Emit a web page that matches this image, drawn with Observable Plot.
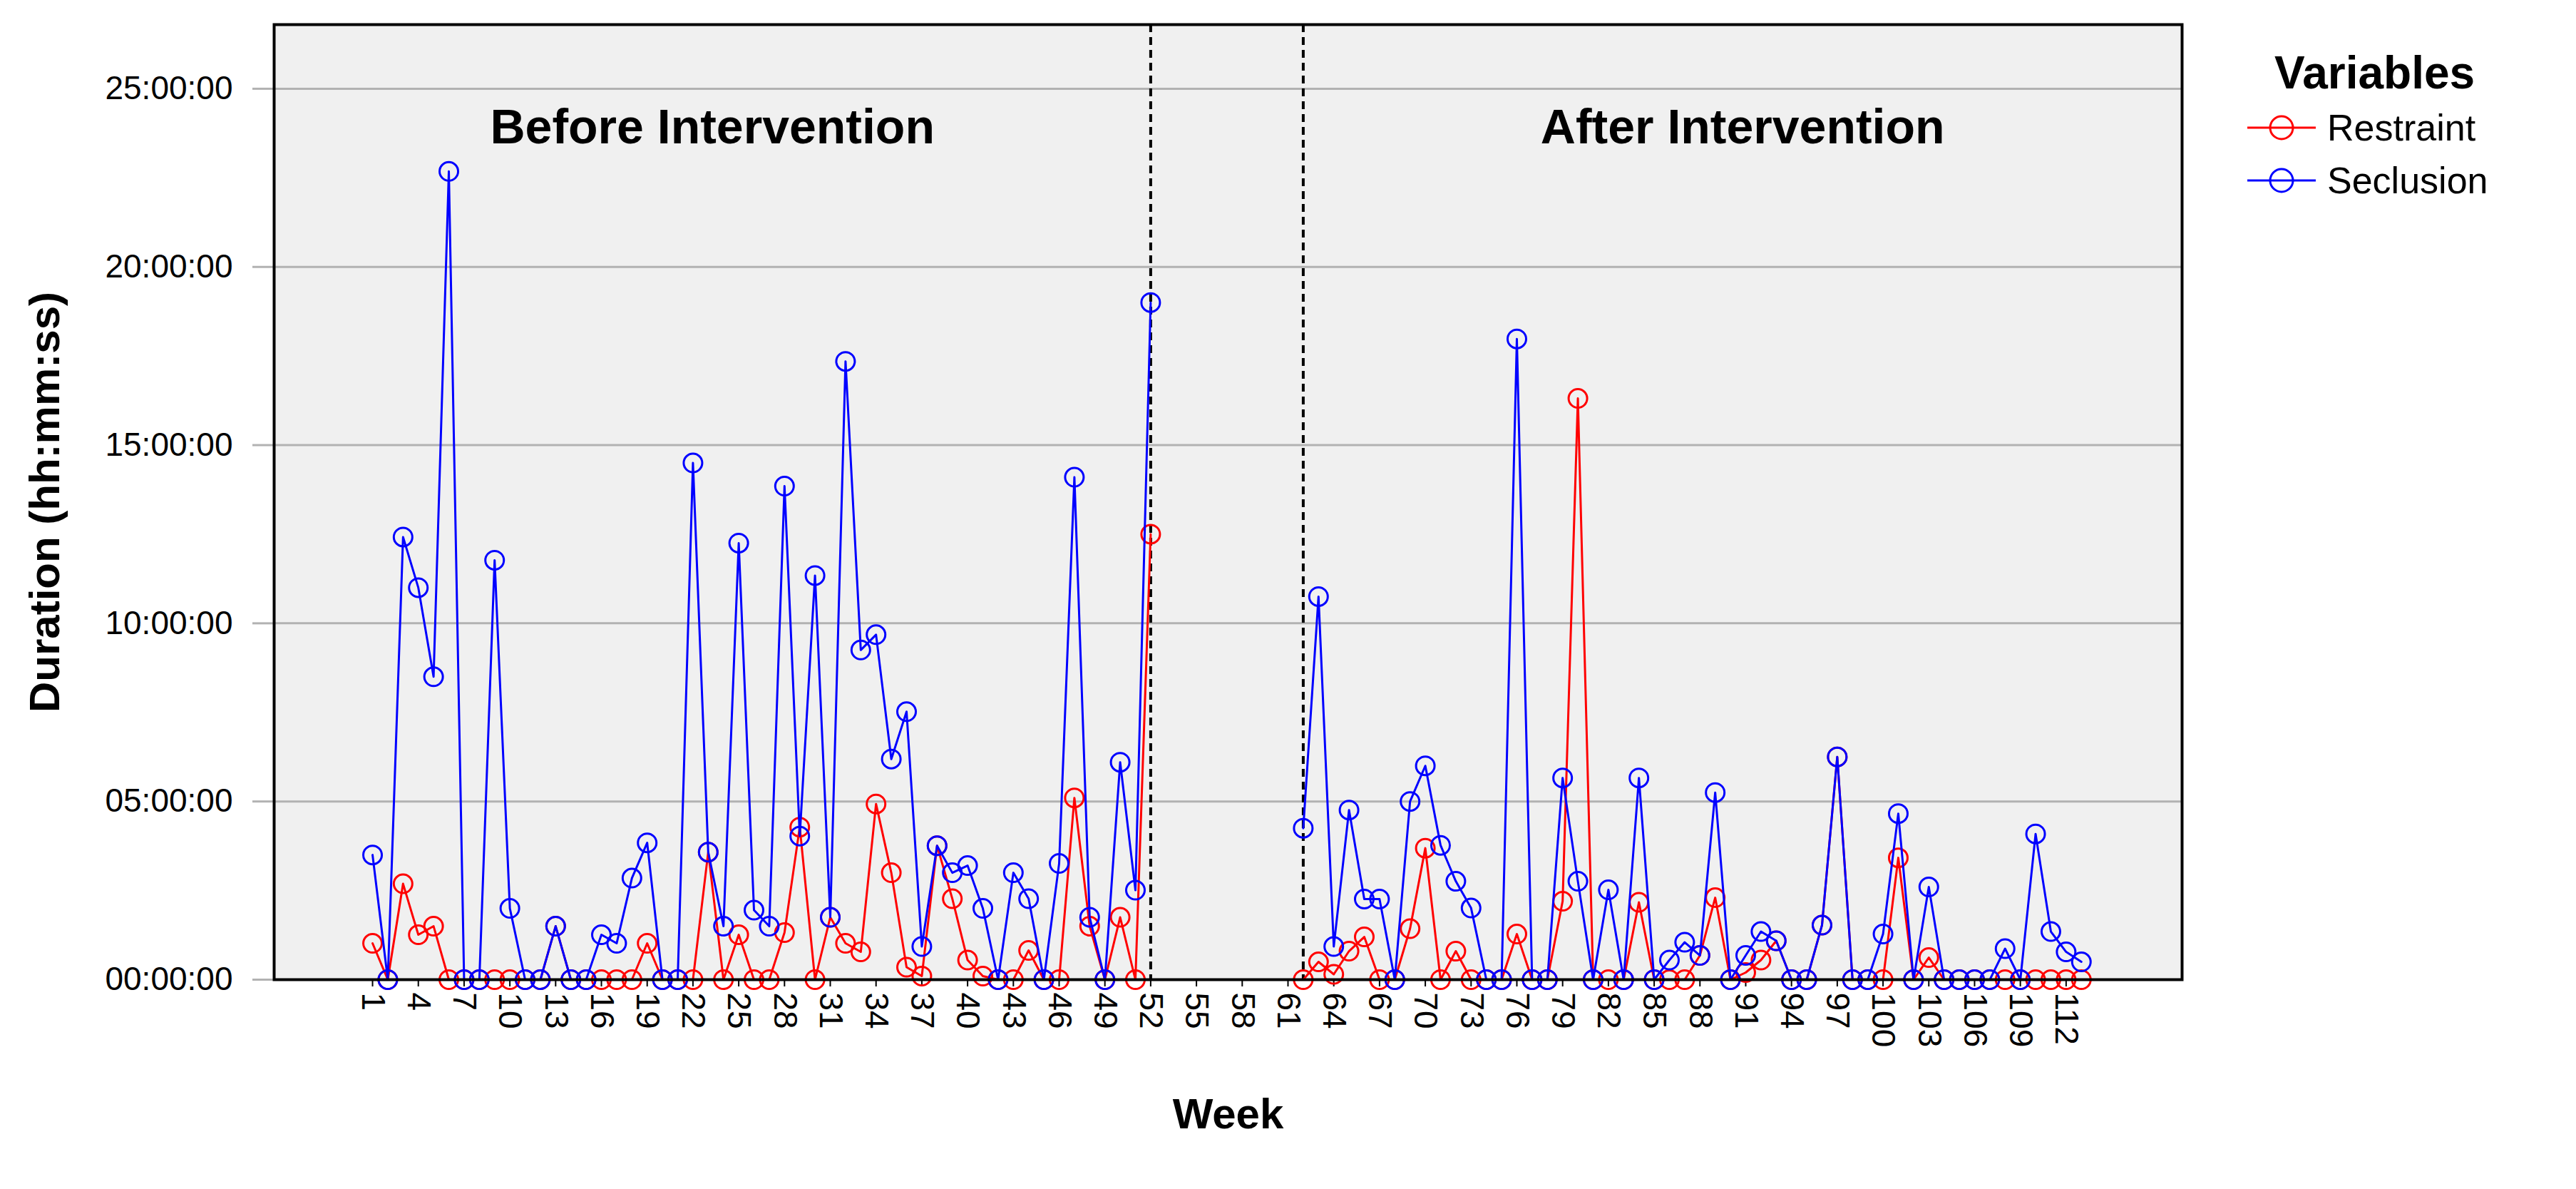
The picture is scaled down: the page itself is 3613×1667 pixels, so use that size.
<!DOCTYPE html>
<html>
<head>
<meta charset="utf-8">
<script src="https://cdn.jsdelivr.net/npm/d3@7"></script>
<script src="https://cdn.jsdelivr.net/npm/@observablehq/plot@0.6"></script>
<style>
  html, body { margin: 0; padding: 0; background: #ffffff; }
  #wrap { position: relative; width: 3613px; height: 1667px; font-family: "Liberation Sans", Arial, sans-serif; }
  #legend { position: absolute; left: 3150px; top: 62px; color: #000; }
  #legend .title { font-weight: bold; font-size: 64px; margin-left: 40px; line-height: 80px; }
  #legend .row { display: flex; align-items: center; height: 74px; }
  #legend .row:first-of-type { margin-top: 6px; }
  #legend .row span { font-size: 52px; margin-left: 14px; }
</style>
</head>
<body>
<div id="wrap"><div id="chart"></div><div id="legend"></div></div>
<script>
// ---- data ----
const weeks = [1,2,3,4,5,6,7,8,9,10,11,12,13,14,15,16,17,18,19,20,21,22,23,24,25,26,27,28,29,30,31,32,33,34,35,36,37,38,39,40,41,42,43,44,45,46,47,48,49,50,51,52,
  62,63,64,65,66,67,68,69,70,71,72,73,74,75,76,77,78,79,80,81,82,83,84,85,86,87,88,89,90,91,92,93,94,95,96,97,98,99,100,101,102,103,104,105,106,107,108,109,110,111,112,113];

// hours per week
const restraint = [1.02,0,2.69,1.26,1.5,0,0,0,0,0,0,0,1.5,0,0,0,0,0,1.02,0,0,0,3.58,0,1.26,0,0,1.32,4.28,0,1.75,1.02,0.78,4.93,3.0,0.35,0.1,3.76,2.27,0.55,0.1,0,0,0.82,0,0,5.1,1.5,0,1.75,0,12.5,
  0,0.5,0.15,0.8,1.2,0,0,1.43,3.69,0,0.8,0,0,0,1.28,0,0,2.2,16.31,0,0,0,2.17,0,0,0,0.68,2.3,0,0.2,0.55,1.09,0,0,1.53,6.25,0,0,0,3.42,0,0.62,0,0,0,0,0,0,0,0,0,0];

const seclusion = [3.5,0,12.42,11.0,8.5,22.68,0,0,11.77,2.0,0,0,1.5,0,0,1.26,1.02,2.85,3.84,0,0,14.5,3.58,1.5,12.25,1.95,1.5,13.85,4.03,11.34,1.75,17.35,9.25,9.68,6.19,7.52,0.93,3.76,3.0,3.2,2.0,0,3.0,2.27,0,3.26,14.1,1.75,0,6.1,2.51,19.0,
  4.25,10.75,0.93,4.76,2.26,2.26,0,5.0,6.0,3.77,2.76,2.01,0,0,17.98,0,0,5.66,2.76,0,2.52,0,5.66,0,0.55,1.05,0.68,5.25,0,0.68,1.35,1.09,0,0,1.53,6.25,0,0,1.28,4.66,0,2.6,0,0,0,0,0.87,0,4.09,1.35,0.78,0.5];

const seriesNames = ["Restraint", "Seclusion"];
const seriesColors = ["#ff0000", "#0000ff"];
const phaseBreaks = [52, 62];
const phaseLabels = ["Before Intervention", "After Intervention"];
const xTicks = [1,4,7,10,13,16,19,22,25,28,31,34,37,40,43,46,49,52,55,58,61,64,67,70,73,76,79,82,85,88,91,94,97,100,103,106,109,112];
const yTicks = [0,5,10,15,20,25];
const xDomain = [-5.45, 119.6];
const yDomain = [0, 26.8];

// ---- rows ----
const rows = [];
weeks.forEach((w, i) => {
  const phase = w <= phaseBreaks[0] ? "before" : "after";
  rows.push({week: w, hours: restraint[i], series: seriesNames[0], phase});
  rows.push({week: w, hours: seclusion[i], series: seriesNames[1], phase});
});
const phaseRows = [
  {label: phaseLabels[0], x: (xDomain[0] + phaseBreaks[0]) / 2},
  {label: phaseLabels[1], x: (phaseBreaks[1] + xDomain[1]) / 2}
];
const fmt = d => String(d).padStart(2, "0") + ":00:00";
const bySeries = s => rows.filter(r => r.series === s);

const chart = Plot.plot({
  width: 3613,
  height: 1667,
  marginLeft: 384,
  marginRight: 553,
  marginTop: 34,
  marginBottom: 294,
  style: {fontFamily: "'Liberation Sans', Arial, sans-serif", background: "#ffffff", overflow: "visible"},
  x: {domain: xDomain, axis: null},
  y: {domain: yDomain, axis: null},
  color: {domain: seriesNames, range: seriesColors},
  marks: [
    Plot.frame({fill: "#f0f0f0", stroke: null}),
    Plot.ruleY(yTicks, {stroke: "#b2b2b2", strokeWidth: 3}),
    Plot.axisY({ticks: yTicks, tickFormat: fmt, tickSize: 30, tickPadding: 28, fontSize: 46, stroke: "#b2b2b2", strokeWidth: 3, fill: "#000", label: null}),
    Plot.axisX({ticks: xTicks, tickFormat: d => String(d), tickRotate: 90, tickSize: 10, tickPadding: 8, fontSize: 46, stroke: "#000", strokeWidth: 2, fill: "#000", label: null}),
    Plot.ruleX(phaseBreaks, {stroke: "#000", strokeWidth: 4, strokeDasharray: "11,7"}),
    Plot.text(phaseRows, {x: "x", text: "label", frameAnchor: "top", dy: 118, fontSize: 68, fontWeight: "bold", fill: "#000"}),
    Plot.line(bySeries(seriesNames[0]), {x: "week", y: "hours", z: "phase", stroke: "series", strokeWidth: 3}),
    Plot.dot(bySeries(seriesNames[0]), {x: "week", y: "hours", r: 13, stroke: "series", strokeWidth: 3, fill: "none"}),
    Plot.line(bySeries(seriesNames[1]), {x: "week", y: "hours", z: "phase", stroke: "series", strokeWidth: 3}),
    Plot.dot(bySeries(seriesNames[1]), {x: "week", y: "hours", r: 13, stroke: "series", strokeWidth: 3, fill: "none"}),
    Plot.frame({stroke: "#000", strokeWidth: 4}),
    Plot.text(["Week"], {text: d => d, frameAnchor: "bottom", dy: 208, fontSize: 60, fontWeight: "bold", fill: "#000"}),
    Plot.text(["Duration (hh:mm:ss)"], {text: d => d, frameAnchor: "left", dx: -321, rotate: -90, textAnchor: "middle", fontSize: 60, fontWeight: "bold", fill: "#000"})
  ]
});
document.getElementById("chart").appendChild(chart);

// ---- legend ----
const legend = d3.select("#legend");
legend.append("div").attr("class", "title").text("Variables");
seriesNames.forEach((name, i) => {
  const row = legend.append("div").attr("class", "row");
  const svg = row.append("svg").attr("width", 100).attr("height", 40);
  svg.append("line").attr("x1", 2).attr("x2", 98).attr("y1", 20).attr("y2", 20)
    .attr("stroke", seriesColors[i]).attr("stroke-width", 3);
  svg.append("circle").attr("cx", 50).attr("cy", 20).attr("r", 16)
    .attr("fill", "none").attr("stroke", seriesColors[i]).attr("stroke-width", 3);
  row.append("span").text(name);
});
</script>
</body>
</html>
